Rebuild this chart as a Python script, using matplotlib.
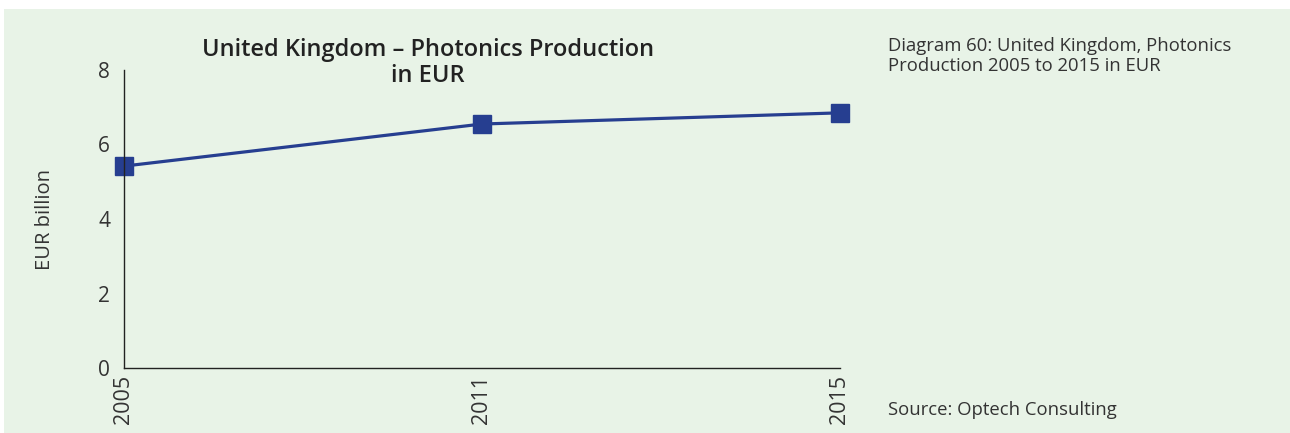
import matplotlib.pyplot as plt
from matplotlib.patches import Rectangle

years = ["2005", "2011", "2015"]
production = [5.42, 6.55, 6.85]
y_ticks = [0, 2, 4, 6, 8]

title = "United Kingdom \u2013 Photonics Production\nin EUR"
caption = "Diagram 60: United Kingdom, Photonics\nProduction 2005 to 2015 in EUR"
source = "Source: Optech Consulting"

bg = "#e8f3e7"
blue = "#263e90"
txt = "#333333"
plt.rcParams["font.family"] = ["Open Sans", "DejaVu Sans"]

fig = plt.figure(figsize=(12.9, 4.33), dpi=100)
fig.patch.set_facecolor("white")
fig.patches.append(Rectangle((4 / 1290, 0.0), 1.0, 1 - 9 / 433,
                             transform=fig.transFigure, facecolor=bg,
                             edgecolor="none", zorder=-10))

ax = fig.add_axes([124 / 1290, 1 - 368 / 433, (840 - 124) / 1290, (368 - 70) / 433])
ax.set_facecolor("none")
x = range(len(years))
ax.plot(x, production, color=blue, lw=2.3, marker="s", ms=12.5, clip_on=False)

ax.set_xlim(0, len(years) - 1)
ax.set_ylim(0, 8)
ax.set_xticks(list(x))
ax.set_xticklabels(years, rotation=90, fontsize=15.5, color=txt)
ax.set_yticks(y_ticks)
ax.set_yticklabels([str(v) for v in y_ticks], fontsize=15, color=txt)
ax.tick_params(axis="y", length=0, pad=10)
ax.tick_params(axis="x", length=0, pad=5)
for s in ["top", "right"]:
    ax.spines[s].set_visible(False)
for s in ["left", "bottom"]:
    ax.spines[s].set_linewidth(1.0)
    ax.spines[s].set_color("#222222")

ax.set_ylabel("EUR billion", fontsize=14.5, color=txt, labelpad=31)

fig.text(428 / 1290, 1 - 63 / 433, title, ha="center", va="center", fontsize=17,
         fontweight="semibold", color="#222222", linespacing=1.15)
fig.text(888 / 1290, 1 - 37 / 433, caption, ha="left", va="top", fontsize=13.3,
         color=txt, linespacing=1.15)
fig.text(888 / 1290, 1 - 410 / 433, source, ha="left", va="center", fontsize=13.3,
         color=txt)

fig.savefig("out.png", dpi=100, facecolor=fig.get_facecolor())
